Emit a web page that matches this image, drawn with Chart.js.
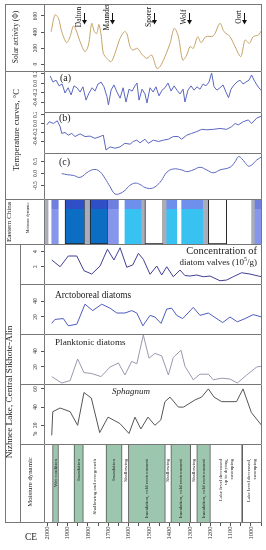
<!DOCTYPE html>
<html>
<head>
<meta charset="utf-8">
<script src="https://cdn.jsdelivr.net/npm/chart.js"></script>
<style>
  html, body { margin: 0; padding: 0; background: #fff; }
  #fig { position: relative; width: 266px; height: 550px; overflow: hidden; font-family: "Liberation Serif", "DejaVu Serif", serif; color: #222; }
  #fig canvas { position: absolute; left: 5px; }
  .ln { position: absolute; background: #777; }
  .tx { position: absolute; white-space: nowrap; line-height: 1; }
  .vt { position: absolute; white-space: nowrap; line-height: 1; transform: translate(-50%, -50%) rotate(-90deg); }
</style>
</head>
<body>
<div id="fig"></div>
<script>
// ---- data (years CE, values) ----
var xTicks = [2000, 1950, 1900, 1850, 1800, 1750, 1700, 1650, 1600, 1550, 1500, 1450, 1400, 1350, 1300, 1250, 1200, 1150, 1100, 1050, 1000, 950];

// solar activity (phi)
var solarYears = [1980,1961,1944,1928,1904,1887,1871,1858,1838,1814,1797,1781,1768,1756,1746,1735,1724,1707,1686,1667,1642,1621,1609,1593,1580,1557,1536,1511,1487,1462,1446,1422,1397,1376,1356,1335,1315,1299,1283,1261,1245,1221,1185,1152,1132,1103,1078,1050,1029,1008,989,964,947];
var solarVals = [404,615,571,404,267,342,475,425,279,154,237,508,404,383,496,362,133,71,29,133,321,404,383,217,175,196,125,71,112,-54,-33,92,258,446,342,50,112,217,196,342,267,342,350,508,404,342,217,92,300,258,342,362,425];
var solarTicks = [0, 200, 400, 600];
var minimaNames = ['Dalton', 'Maunder', 'Sporer', 'Wolf', 'Oort'];
var minimaYears = [1819, 1681, 1475, 1304, 1034];

// temperature curves (a), (b), (c)
var aYears = [1985,1971,1956,1941,1926,1912,1897,1882,1868,1853,1838,1824,1809,1794,1779,1765,1750,1735,1721,1706,1699,1686,1672,1657,1642,1627,1613,1598,1583,1569,1559,1549,1534,1520,1510,1495,1480,1466,1451,1436,1422,1407,1392,1377,1363,1348,1333,1324,1309,1294,1279,1265,1250,1235,1221,1206,1193,1181,1167,1152,1137,1123,1110,1098,1083,1069,1054,1039,1025,1010,997,985,971,956,946];
var aVals = [0.16,0.03,0.07,-0.05,-0.01,-0.2,-0.09,-0.24,-0.05,-0.09,-0.18,-0.07,-0.35,-0.2,-0.09,-0.16,-0.01,0.03,-0.07,-0.28,-0.45,-0.14,-0.03,-0.18,-0.31,-0.09,-0.39,-0.12,-0.16,-0.05,0.01,-0.35,-0.12,-0.22,-0.41,-0.09,-0.18,-0.07,-0.26,-0.14,-0.09,0.01,-0.16,-0.05,-0.14,-0.22,-0.12,-0.39,-0.14,-0.05,-0.14,-0.07,-0.12,-0.01,-0.05,0.03,0.22,-0.07,-0.14,-0.09,-0.03,-0.18,-0.3,-0.12,-0.03,0.03,0.07,-0.01,0.03,0.07,0.18,0.07,-0.03,-0.12,-0.16];
var aTicks = [0.2, 0, -0.2, -0.4];

var bYears = [2001,1989,1969,1950,1936,1928,1912,1896,1879,1863,1838,1814,1789,1765,1740,1724,1711,1691,1667,1642,1618,1593,1577,1560,1544,1520,1503,1479,1454,1430,1405,1381,1356,1340,1315,1291,1266,1242,1217,1185,1152,1119,1095,1078,1062,1038,1013,997,972,956,947];
var bVals = [-0.03,0.04,0.0,0.06,-0.07,-0.22,-0.2,-0.26,-0.22,-0.29,-0.23,-0.29,-0.28,-0.33,-0.29,-0.26,-0.59,-0.52,-0.55,-0.52,-0.44,-0.46,-0.4,-0.37,-0.43,-0.35,-0.44,-0.37,-0.4,-0.37,-0.35,-0.29,-0.29,-0.35,-0.26,-0.22,-0.18,-0.13,-0.14,-0.13,-0.11,-0.13,-0.07,0.0,-0.03,0.04,0.08,0.0,0.12,0.15,0.17];
var bTicks = [0.2, 0, -0.2, -0.4];

var cYears = [1928,1900,1870,1838,1797,1765,1740,1716,1691,1667,1642,1618,1595,1569,1545,1520,1490,1465,1440,1413,1381,1340,1315,1283,1250,1217,1185,1152,1103,1078,1062,1046,1029,1013,997,972,947];
var cVals = [0.0,-0.05,-0.08,-0.16,0.08,0.17,0.07,-0.2,-0.55,-0.85,-0.83,-0.7,-0.5,-0.4,-0.45,-0.58,-0.62,-0.52,-0.3,0.05,0.19,0.15,0.08,0.15,0.26,0.15,0.03,0.15,0.26,0.49,0.7,0.63,0.45,0.31,0.35,0.56,0.7];
var cTicks = [0.5, 0, -0.5];

// Eastern China moisture bands
var eastStart = [2008,1977,1912,1814,1789,1700,1618,1536,1520,1430,1413,1340,1234,1209,997,980];
var eastEnd   = [1995,1945,1814,1789,1700,1650,1536,1520,1430,1413,1364,1234,1209,1119,980,946];
var eastType  = ['g','p','d','g','d','p','c','g','w','g','c','c','g','w','g','p'];

// Nizhnee Lake series
var concYears = [1977,1936,1896,1854,1819,1781,1740,1704,1672,1642,1609,1580,1552,1528,1495,1462,1438,1413,1381,1348,1324,1299,1266,1234,1201,1152,1119,1087,1046,1005,964,947];
var concVals = [2.87,1.97,3.4,3.4,1.44,1.0,2.07,4.3,2.87,4.5,1.9,2.2,3.76,2.96,0.96,2.07,0.87,1.97,0.64,1.53,0.8,0.73,0.87,0.64,0.73,0.1,0.2,0.64,1.17,1.0,0.73,0.64];
var concTicks = [2, 4];

var arctYears = [1977,1961,1920,1896,1854,1814,1776,1732,1691,1658,1618,1585,1560,1530,1495,1471,1441,1413,1389,1364,1335,1283,1250,1209,1139,1103,1067,1029,989,947];
var arctVals = [12,17,18,9,11,36,28,36,31,25,25,28,25,9,22,20,12,30,31,22,18,32,22,25,13,20,14,18,23,20];
var arctTicks = [20, 40];

var plankYears = [1977,1928,1887,1850,1819,1783,1735,1691,1650,1618,1585,1560,1528,1500,1471,1438,1405,1381,1343,1324,1283,1250,1209,1185,1144,1103,1067,1021,972,947];
var plankVals = [8,0,3,30,13,12,8,20,25,10,27,24,60,31,37,34,10,32,41,21,4,11,11,4,6,5,0,10,20,21];
var plankTicks = [20, 40];

var sphYears = [1977,1972,1936,1887,1850,1819,1783,1742,1701,1643,1598,1569,1540,1505,1471,1442,1422,1397,1356,1331,1274,1242,1209,1181,1144,1071,1039,998,948];
var sphVals = [9,35,39,35,20,56,50,12,29,22,11,29,16,29,20,26,46,51,40,40,48,51,60,51,46,46,60,34,20];
var sphTicks = [20, 40, 60];

// moisture dynamic stages
var moistStart = [1973,1868,1822,1711,1632,1601,1420,1393,1296,1266,1199,1046];
var moistEnd   = [1944,1822,1711,1632,1601,1420,1393,1296,1266,1199,1046,946];
var moistType  = ['i','i','n','i','n','i','n','i','n','i','n','n'];
var moistText  = [['Wet condition'], ['Inundation'], ['Shallowing and overgrowth'], ['Inundation'], ['Shallowing'],
  ['Inundation, cold environment'], ['Shallowing'], ['Inundation, cold environment'], ['Shallowing'],
  ['Inundation, cold environment'], ['Lake level decreased', 'up to drying,', 'swamping'], ['Lake level decreased,', 'swamping']];

// ---- layout ----
var X_MIN = 946, X_MAX = 2015;
var W = 257;        // canvas from x=5 to x=262
var AXIS_W = 39;    // plot area starts at x=44
var fig = document.getElementById('fig');
Chart.defaults.font.family = '"Liberation Serif", serif';

function line(x, y, w, h) {
    var d = document.createElement('div');
    d.className = 'ln';
    d.style.cssText = 'left:' + x + 'px;top:' + y + 'px;width:' + w + 'px;height:' + h + 'px';
    fig.appendChild(d);
}

function text(str, x, cy, size, rot, style) {
    var d = document.createElement('div');
    d.className = rot ? 'vt' : 'tx';
    d.style.left = x + 'px';
    d.style.top = (rot ? cy : cy - size * 0.55) + 'px';
    d.style.fontSize = size + 'px';
    if (style) d.style.cssText += style;
    d.innerHTML = str;
    fig.appendChild(d);
    return d;
}

// box round each plot area
var framePlugin = {
    id: 'frame',
    defaults: { bottom: false },
    afterDraw: function(chart, args, opts) {
        var a = chart.chartArea, ctx = chart.ctx;
        var b = opts.bottom ? a.bottom + 0.5 : chart.height;
        ctx.save();
        ctx.strokeStyle = '#777';
        ctx.lineWidth = 1;
        ctx.beginPath();
        ctx.moveTo(a.left + 0.5, b);
        ctx.lineTo(a.left + 0.5, a.top + 0.5);
        ctx.lineTo(a.right - 0.5, a.top + 0.5);
        ctx.lineTo(a.right - 0.5, b);
        if (opts.bottom) ctx.lineTo(a.left + 0.5, b);
        ctx.stroke();
        ctx.restore();
    }
};

// tick labels turned 90 degrees, as in the figure
var rotTicks = {
    id: 'rotTicks',
    defaults: { axis: '' },
    afterDraw: function(chart, args, opts) {
        var s = chart.scales[opts.axis];
        if (!s) return;
        var ctx = chart.ctx, hor = s.isHorizontal();
        ctx.save();
        ctx.font = (hor ? '6.5px' : '5.5px') + ' "Liberation Serif"';
        ctx.fillStyle = '#333';
        ctx.textBaseline = 'middle';
        ctx.textAlign = hor ? 'right' : 'center';
        s.ticks.forEach(function(t) {
            if (!t.label) return;
            var p = s.getPixelForValue(t.value);
            ctx.save();
            if (hor) ctx.translate(p, s.top + 4.5);
            else ctx.translate(s.right - 8, p);
            ctx.rotate(-Math.PI / 2);
            ctx.fillText(t.label, 0, 0);
            ctx.restore();
        });
        ctx.restore();
    }
};
Chart.register(framePlugin, rotTicks);

function addCanvas(top, h) {
    var cv = document.createElement('canvas');
    cv.width = W;
    cv.height = h;
    cv.style.top = top + 'px';
    fig.appendChild(cv);
    return cv;
}

function lineChart(top, h, years, vals, color, yMin, yMax, yTicks, digits, tension, extra) {
    var cv = addCanvas(top, h);
    return new Chart(cv, {
        type: 'line',
        data: {
            datasets: [{
                data: years.map(function(y, i) { return { x: y, y: vals[i] }; }),
                borderColor: color,
                borderWidth: 1,
                pointRadius: 0,
                tension: tension,
                fill: false
            }]
        },
        plugins: extra || [],
        options: {
            responsive: false,
            animation: false,
            events: [],
            layout: { padding: 0 },
            plugins: { legend: { display: false }, tooltip: { enabled: false }, rotTicks: { axis: 'y' } },
            scales: {
                x: { type: 'linear', min: X_MIN, max: X_MAX, reverse: true, display: false },
                y: {
                    type: 'linear', min: yMin, max: yMax,
                    afterFit: function(s) { s.width = AXIS_W; },
                    afterBuildTicks: function(s) { s.ticks = yTicks.map(function(v) { return { value: v }; }); },
                    ticks: { display: false, callback: function(v) { return v.toFixed(digits); } },
                    grid: { drawOnChartArea: false, tickLength: 3, color: '#555' },
                    border: { display: false }
                }
            }
        }
    });
}

// arrows for the solar minima
var minimaArrows = {
    id: 'minimaArrows',
    afterDatasetsDraw: function(chart) {
        var ctx = chart.ctx, xs = chart.scales.x;
        ctx.save();
        ctx.fillStyle = '#111';
        ctx.strokeStyle = '#111';
        ctx.lineWidth = 1;
        ctx.font = '7.5px "Liberation Serif"';
        ctx.textAlign = 'center';
        ctx.textBaseline = 'middle';
        minimaYears.forEach(function(yr, i) {
            var x = Math.round(xs.getPixelForValue(yr)) + 0.5;
            ctx.beginPath();
            ctx.moveTo(x, 9);
            ctx.lineTo(x, 16.5);
            ctx.stroke();
            ctx.beginPath();
            ctx.moveTo(x - 2.5, 16);
            ctx.lineTo(x + 2.5, 16);
            ctx.lineTo(x, 20.5);
            ctx.closePath();
            ctx.fill();
            ctx.save();
            ctx.translate(x - 5, 13);
            ctx.rotate(-Math.PI / 2);
            ctx.fillText(minimaNames[i], 0, 0);
            ctx.restore();
        });
        ctx.restore();
    }
};

// panels, top to bottom
lineChart(4, 67, solarYears, solarVals, '#c5a367', -87.5, 750, solarTicks, 0, 0.3, [minimaArrows]);
lineChart(71, 41, aYears, aVals, '#5b66c0', -0.6, 0.263, aTicks, 1, 0);
lineChart(112, 41, bYears, bVals, '#5b66c0', -0.656, 0.256, bTicks, 1, 0);
lineChart(153, 46, cYears, cVals, '#5b66c0', -1.06, 0.854, cTicks, 1, 0.4);

// Eastern China moisture dynamic
var eastColors = { g: ['#a9acb9', '#a9acb9'], p: ['#6f7fe0', '#8696ea'], d: ['#2f4fc6', '#0b6ec3'], c: ['#6f8fec', '#37c2f2'], w: ['#ffffff', '#ffffff'] };
new Chart(addCanvas(199, 45), {
    type: 'bar',
    data: {
        labels: ['m'],
        datasets: [{
            data: eastStart.map(function(s, i) { return { x: [eastEnd[i], s], y: 'm' }; }),
            backgroundColor: function(c) {
                if (c.type !== 'data') return 'transparent';
                var col = eastColors[eastType[c.dataIndex]], a = c.chart.chartArea;
                if (!a) return col[1];
                var gr = c.chart.ctx.createLinearGradient(0, a.top, 0, a.bottom);
                gr.addColorStop(0, col[0]);
                gr.addColorStop(0.22, col[0]);
                gr.addColorStop(0.22, col[1]);
                gr.addColorStop(1, col[1]);
                return gr;
            },
            borderColor: '#222',
            borderWidth: function(c) {
                var t = eastType[c.dataIndex];
                return (t === 'd' || t === 'w') ? 1 : 0;
            },
            borderSkipped: false,
            barPercentage: 1,
            categoryPercentage: 1
        }]
    },
    options: {
        indexAxis: 'y',
        responsive: false,
        animation: false,
        events: [],
        layout: { padding: { left: AXIS_W } },
        plugins: { legend: { display: false }, tooltip: { enabled: false } },
        scales: {
            x: { type: 'linear', min: X_MIN, max: X_MAX, reverse: true, display: false },
            y: { display: false }
        }
    }
});

lineChart(244, 40, concYears, concVals, '#3f3f92', -0.33, 5.0, concTicks, 0, 0);
lineChart(284, 50, arctYears, arctVals, '#4e5bbf', -1.25, 61.25, arctTicks, 0, 0);
lineChart(334, 50, plankYears, plankVals, '#9a98b0', -1.25, 61.25, plankTicks, 0, 0);
lineChart(384, 60, sphYears, sphVals, '#555555', -0.55, 65.4, sphTicks, 0, 0);

// moisture dynamic stages with the time axis
var bandText = {
    id: 'bandText',
    afterDatasetsDraw: function(chart) {
        var ctx = chart.ctx, meta = chart.getDatasetMeta(0);
        ctx.save();
        ctx.fillStyle = '#222';
        ctx.font = '5px "Liberation Serif"';
        ctx.textAlign = 'right';
        ctx.textBaseline = 'middle';
        meta.data.forEach(function(el, i) {
            var lines = moistText[i], cx = (el.x + el.base) / 2;
            ctx.save();
            ctx.translate(cx, chart.chartArea.top + 15);
            ctx.rotate(-Math.PI / 2);
            lines.forEach(function(t, k) {
                ctx.fillText(t, 0, (k - (lines.length - 1) / 2) * 5.5);
            });
            ctx.restore();
        });
        ctx.restore();
    }
};

new Chart(addCanvas(444, 106), {
    type: 'bar',
    data: {
        labels: ['m'],
        datasets: [{
            data: moistStart.map(function(s, i) { return { x: [moistEnd[i], s], y: 'm' }; }),
            backgroundColor: function(c) {
                return moistType[c.dataIndex] === 'i' ? '#9cc6ad' : 'rgba(255,255,255,0)';
            },
            borderColor: '#555',
            borderWidth: function(c) {
                if (moistType[c.dataIndex] === 'i') return { left: 1, right: 1, top: 0, bottom: 0 };
                return c.dataIndex === moistType.length - 1 ? { left: 1, right: 0, top: 0, bottom: 0 } : 0;
            },
            borderSkipped: false,
            barPercentage: 1,
            categoryPercentage: 1
        }]
    },
    plugins: [bandText],
    options: {
        indexAxis: 'y',
        responsive: false,
        animation: false,
        events: [],
        layout: { padding: { left: AXIS_W } },
        plugins: { legend: { display: false }, tooltip: { enabled: false }, frame: { bottom: true }, rotTicks: { axis: 'x' } },
        scales: {
            x: {
                type: 'linear', min: X_MIN, max: X_MAX, reverse: true, position: 'bottom',
                afterFit: function(s) { s.height = 28; },
                afterBuildTicks: function(s) { s.ticks = xTicks.map(function(v) { return { value: v }; }); },
                ticks: { display: false, callback: function(v) { return v % 100 === 0 ? String(v) : ''; } },
                grid: { drawOnChartArea: false, tickLength: 4, color: '#555' },
                border: { display: false }
            },
            y: { display: false }
        }
    }
});

// ---- left label column and frame lines ----
line(5, 4, 1, 519);
line(5, 4, 257, 1);
line(5, 522, 39, 1);
line(5, 71, 39, 1);
line(5, 199, 39, 1);
line(5, 244, 39, 1);
line(20, 244, 1, 278);
line(20, 284, 24, 1);
line(20, 334, 24, 1);
line(20, 384, 24, 1);
line(20, 444, 24, 1);

text('Solar activity (&Phi;)', 16, 37, 7.5, true);
text('Temperature curves, &deg;C', 16, 130, 8.7, true);
text('Eastern China', 9.5, 222, 7.1, true);
text('Moisture dynamic', 28, 218, 4.2, true);
text('Nizhnee Lake, Central Sikhote-Alin', 10, 392, 9.2, true);
text('Moisture dynamic', 30, 482, 6.8, true);
text('%', 35.5, 434, 5.5, true);
text('CE', 25, 538, 9.4, false);

// texts inside the panels
text('(a)', 60, 78.5, 10, false);
text('(b)', 59, 118, 10, false);
text('(c)', 59, 162, 10, false);
text('Concentration of', 257, 251.5, 10.5, false, 'transform:translateX(-100%);');
text('diatom valves (10<sup style="font-size:6px;vertical-align:4px">5</sup>/g)', 257, 261, 9, false, 'transform:translateX(-100%);');
text('Arctoboreal diatoms', 55, 296.5, 9.3, false);
text('Planktonic diatoms', 55, 343, 9.2, false);
text('Sphagnum', 112, 392, 9, false, 'font-style:italic;');
</script>
</body>
</html>
